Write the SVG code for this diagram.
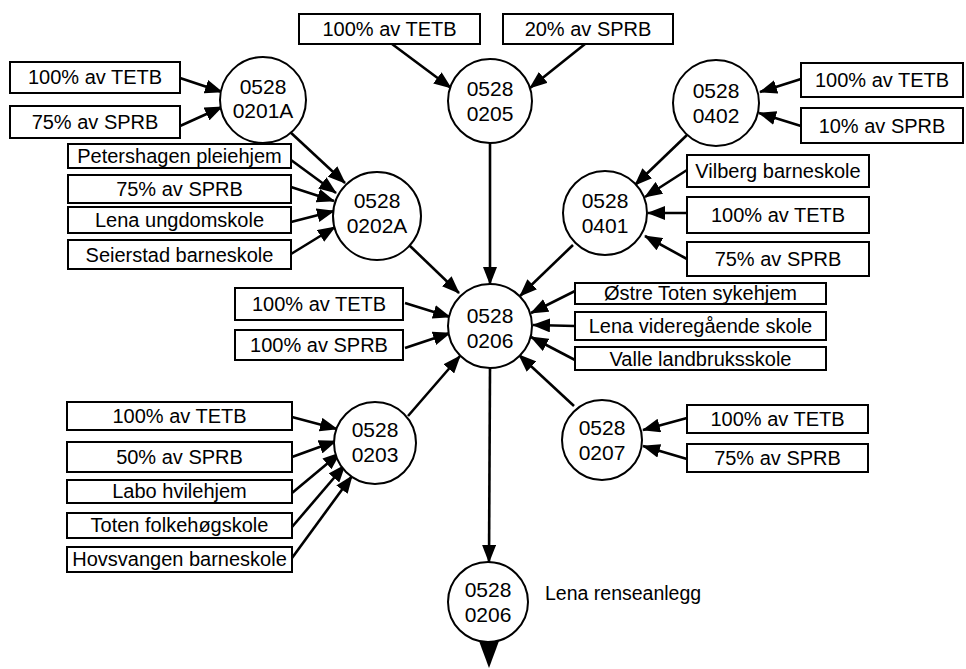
<svg xmlns="http://www.w3.org/2000/svg" width="966" height="669" viewBox="0 0 966 669">
<style>
.box{fill:#fff;stroke:#000;stroke-width:2}
.node{fill:#fff;stroke:#000;stroke-width:2}
.bt{font-family:"Liberation Sans",Arial,sans-serif;font-size:20px;fill:#000;text-anchor:middle}
.nt{font-family:"Liberation Sans",Arial,sans-serif;font-size:21px;fill:#000;text-anchor:middle}
.lbl{font-family:"Liberation Sans",Arial,sans-serif;font-size:19.5px;fill:#000}
.c{stroke:#000;stroke-width:2.6;fill:none;marker-end:url(#ah)}
</style>
<defs>
<marker id="ah" markerUnits="userSpaceOnUse" markerWidth="18" markerHeight="14" refX="17" refY="7" orient="auto">
<path d="M0,0 L18,7 L0,14 z" fill="#000"/>
</marker>
</defs>
<rect width="966" height="669" fill="#fff"/>

<g id="connectors">
<line class="c" x1="392" y1="44" x2="451" y2="88"/>
<line class="c" x1="585" y1="44" x2="530" y2="88"/>
<line class="c" x1="180" y1="78" x2="222" y2="92"/>
<line class="c" x1="180" y1="126" x2="222" y2="107"/>
<line class="c" x1="289" y1="131" x2="345" y2="183"/>
<line class="c" x1="291" y1="160" x2="336" y2="193"/>
<line class="c" x1="291" y1="187" x2="334" y2="201"/>
<line class="c" x1="291" y1="222" x2="334" y2="211"/>
<line class="c" x1="291" y1="254" x2="335" y2="227"/>
<line class="c" x1="801" y1="79" x2="760" y2="92"/>
<line class="c" x1="801" y1="126" x2="759" y2="113"/>
<line class="c" x1="687" y1="135" x2="635" y2="185"/>
<line class="c" x1="687" y1="170" x2="645" y2="197"/>
<line class="c" x1="687" y1="213" x2="648" y2="213"/>
<line class="c" x1="687" y1="259" x2="645" y2="236"/>
<line class="c" x1="490" y1="143" x2="490" y2="284"/>
<line class="c" x1="409" y1="245" x2="459" y2="293"/>
<line class="c" x1="573" y1="245" x2="520" y2="296"/>
<line class="c" x1="405" y1="303" x2="450" y2="317"/>
<line class="c" x1="405" y1="348" x2="450" y2="333"/>
<line class="c" x1="575" y1="291" x2="531" y2="313"/>
<line class="c" x1="575" y1="326" x2="533" y2="325"/>
<line class="c" x1="575" y1="360" x2="531" y2="337"/>
<line class="c" x1="292" y1="417" x2="337" y2="429"/>
<line class="c" x1="292" y1="457" x2="336" y2="441"/>
<line class="c" x1="292" y1="493" x2="340" y2="453"/>
<line class="c" x1="292" y1="527" x2="345" y2="465"/>
<line class="c" x1="292" y1="558" x2="352" y2="476"/>
<line class="c" x1="408" y1="416" x2="460" y2="356"/>
<line class="c" x1="687" y1="418" x2="643" y2="430"/>
<line class="c" x1="687" y1="459" x2="643" y2="446"/>
<line class="c" x1="574" y1="406" x2="519" y2="355"/>
<line class="c" x1="490" y1="368" x2="489" y2="562"/>
<polygon points="479,641 499,641 489,668" fill="#000"/>
</g>

<g id="b1"><rect class="box" x="299" y="14" width="181" height="30"/><text class="bt" x="389.5" y="36">100% av TETB</text></g>
<g id="b2"><rect class="box" x="503" y="14" width="170" height="30"/><text class="bt" x="588" y="36">20% av SPRB</text></g>
<g id="n0205"><circle class="node" cx="490" cy="101" r="42"/><text class="nt" x="490" y="96">0528</text><text class="nt" x="490" y="121">0205</text></g>

<g id="b3"><rect class="box" x="10" y="62" width="170" height="31"/><text class="bt" x="95" y="84">100% av TETB</text></g>
<g id="b4"><rect class="box" x="10" y="106" width="170" height="32"/><text class="bt" x="95" y="129">75% av SPRB</text></g>
<g id="n0201A"><circle class="node" cx="263" cy="100" r="43"/><text class="nt" x="263" y="94">0528</text><text class="nt" x="263" y="118">0201A</text></g>

<g id="b5"><rect class="box" x="68" y="144" width="223" height="24"/><text class="bt" x="179.5" y="163">Petershagen pleiehjem</text></g>
<g id="b6"><rect class="box" x="68" y="175" width="223" height="28"/><text class="bt" x="179.5" y="196">75% av SPRB</text></g>
<g id="b7"><rect class="box" x="68" y="207" width="223" height="26"/><text class="bt" x="179.5" y="227">Lena ungdomskole</text></g>
<g id="b8"><rect class="box" x="68" y="240" width="223" height="29"/><text class="bt" x="179.5" y="262">Seierstad barneskole</text></g>
<g id="n0202A"><circle class="node" cx="377" cy="216" r="44"/><text class="nt" x="377" y="208">0528</text><text class="nt" x="377" y="233">0202A</text></g>

<g id="b9"><rect class="box" x="801" y="63" width="162" height="34"/><text class="bt" x="882" y="87">100% av TETB</text></g>
<g id="b10"><rect class="box" x="801" y="108" width="162" height="35"/><text class="bt" x="882" y="133">10% av SPRB</text></g>
<g id="n0402"><circle class="node" cx="716" cy="103" r="43"/><text class="nt" x="716" y="98">0528</text><text class="nt" x="716" y="123">0402</text></g>

<g id="b11"><rect class="box" x="687" y="155" width="182" height="32"/><text class="bt" x="778" y="178">Vilberg barneskole</text></g>
<g id="b12"><rect class="box" x="687" y="197" width="182" height="36"/><text class="bt" x="778" y="222">100% av TETB</text></g>
<g id="b13"><rect class="box" x="687" y="242" width="182" height="34"/><text class="bt" x="778" y="266">75% av SPRB</text></g>
<g id="n0401"><circle class="node" cx="605" cy="213" r="42"/><text class="nt" x="605" y="208">0528</text><text class="nt" x="605" y="233">0401</text></g>

<g id="b14"><rect class="box" x="235" y="288" width="168" height="32"/><text class="bt" x="319" y="311">100% av TETB</text></g>
<g id="b15"><rect class="box" x="235" y="330" width="168" height="30"/><text class="bt" x="319" y="352">100% av SPRB</text></g>
<g id="b16"><rect class="box" x="575" y="283" width="251" height="21"/><text class="bt" x="700.5" y="300">Østre Toten sykehjem</text></g>
<g id="b17"><rect class="box" x="575" y="312" width="251" height="28"/><text class="bt" x="700.5" y="333">Lena videregående skole</text></g>
<g id="b18"><rect class="box" x="575" y="347" width="251" height="23"/><text class="bt" x="700.5" y="366">Valle landbruksskole</text></g>
<g id="n0206"><circle class="node" cx="490" cy="326" r="42"/><text class="nt" x="490" y="323">0528</text><text class="nt" x="490" y="348">0206</text></g>

<g id="b19"><rect class="box" x="67" y="402" width="225" height="28"/><text class="bt" x="179.5" y="423">100% av TETB</text></g>
<g id="b20"><rect class="box" x="67" y="442" width="225" height="30"/><text class="bt" x="179.5" y="464">50% av SPRB</text></g>
<g id="b21"><rect class="box" x="67" y="480" width="225" height="23"/><text class="bt" x="179.5" y="498">Labo hvilehjem</text></g>
<g id="b22"><rect class="box" x="67" y="513" width="225" height="25"/><text class="bt" x="179.5" y="532">Toten folkehøgskole</text></g>
<g id="b23"><rect class="box" x="67" y="547" width="225" height="25"/><text class="bt" x="179.5" y="566">Hovsvangen barneskole</text></g>
<g id="n0203"><circle class="node" cx="375" cy="443" r="41"/><text class="nt" x="375" y="437">0528</text><text class="nt" x="375" y="462">0203</text></g>

<g id="b24"><rect class="box" x="687" y="405" width="181" height="28"/><text class="bt" x="777.5" y="426">100% av TETB</text></g>
<g id="b25"><rect class="box" x="687" y="444" width="181" height="28"/><text class="bt" x="777.5" y="465">75% av SPRB</text></g>
<g id="n0207"><circle class="node" cx="602" cy="440" r="40"/><text class="nt" x="602" y="435">0528</text><text class="nt" x="602" y="460">0207</text></g>

<g id="n0206out"><circle class="node" cx="488" cy="602" r="40"/><text class="nt" x="488" y="597">0528</text><text class="nt" x="488" y="622">0206</text><text class="lbl" x="545" y="600">Lena renseanlegg</text></g>
</svg>
